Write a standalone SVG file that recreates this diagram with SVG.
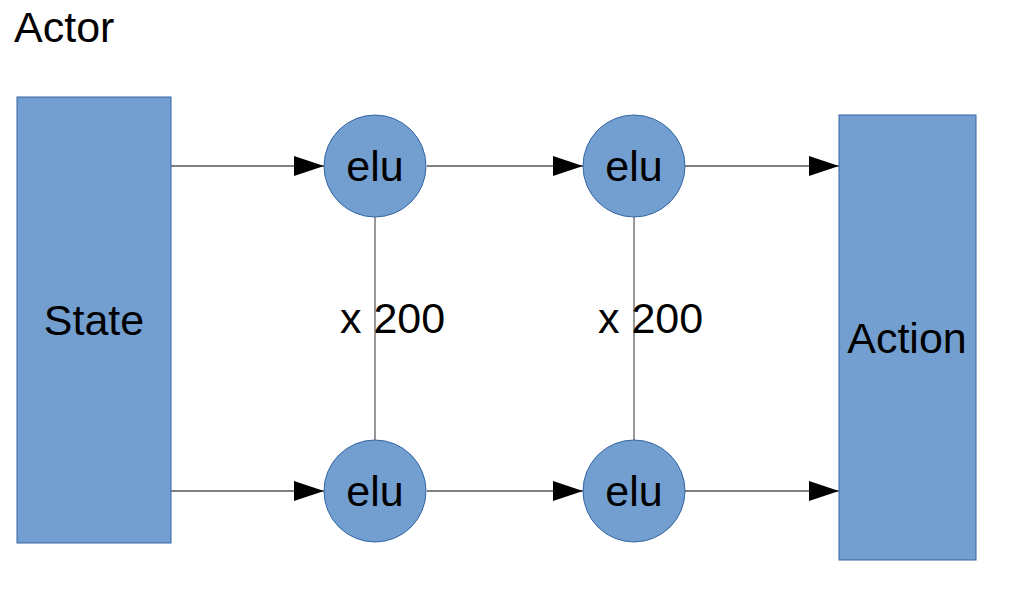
<svg xmlns="http://www.w3.org/2000/svg" width="1016" height="598" viewBox="0 0 1016 598">
<style>
.box{fill:#729fcf;stroke:#3465a4;stroke-width:1}
.t{font-family:"Liberation Sans",Arial,sans-serif;font-size:43px;fill:#000}
.c{stroke:#000;stroke-width:1.2;fill:none}
.v{stroke:#333;stroke-width:1;fill:none}
</style>
<defs>
<marker id="ah" markerUnits="userSpaceOnUse" markerWidth="30" markerHeight="20" refX="30" refY="10" orient="auto">
<path d="M0,0 L30,10 L0,20 Z" fill="#000"/>
</marker>
</defs>
<rect width="1016" height="598" fill="#fff"/>
<text class="t" x="14" y="42">Actor</text>
<g id="connectors">
<line class="c" x1="171" y1="166" x2="324" y2="166" marker-end="url(#ah)"/>
<line class="c" x1="427" y1="166" x2="583" y2="166" marker-end="url(#ah)"/>
<line class="c" x1="685" y1="166" x2="839" y2="166" marker-end="url(#ah)"/>
<line class="c" x1="171" y1="491" x2="324" y2="491" marker-end="url(#ah)"/>
<line class="c" x1="427" y1="491" x2="583" y2="491" marker-end="url(#ah)"/>
<line class="c" x1="685" y1="491" x2="839" y2="491" marker-end="url(#ah)"/>
<line class="v" x1="375" y1="217" x2="375" y2="440"/>
<line class="v" x1="634" y1="217" x2="634" y2="440"/>
</g>
<text class="t" x="340" y="333">x 200</text>
<text class="t" x="598" y="333">x 200</text>
<g id="state">
<rect class="box" x="17" y="97" width="154" height="446"/>
<text class="t" x="94" y="335" text-anchor="middle">State</text>
</g>
<g id="action">
<rect class="box" x="839" y="115" width="137" height="445"/>
<text class="t" x="907" y="353" text-anchor="middle">Action</text>
</g>
<g id="elu1">
<circle class="box" cx="375" cy="166" r="51"/>
<text class="t" x="375" y="181" text-anchor="middle">elu</text>
</g>
<g id="elu2">
<circle class="box" cx="634" cy="166" r="51"/>
<text class="t" x="634" y="181" text-anchor="middle">elu</text>
</g>
<g id="elu3">
<circle class="box" cx="375" cy="491" r="51"/>
<text class="t" x="375" y="506" text-anchor="middle">elu</text>
</g>
<g id="elu4">
<circle class="box" cx="634" cy="491" r="51"/>
<text class="t" x="634" y="506" text-anchor="middle">elu</text>
</g>
</svg>
